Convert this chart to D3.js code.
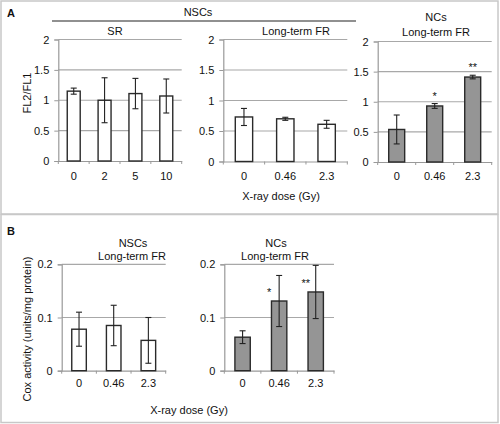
<!DOCTYPE html>
<html><head><meta charset="utf-8">
<script src="https://cdn.jsdelivr.net/npm/d3@7"></script>
<style>body{margin:0;background:#fff}svg{display:block}text{font-family:"Liberation Sans",Arial,sans-serif;fill:#111}</style>
</head><body><svg id="c" width="500" height="424"></svg>
<script>
// ---- data ----
const srDoses = ["0", "2", "5", "10"];
const srMean = [1.15, 1.00, 1.11, 1.07];
const srErr = [0.05, 0.37, 0.25, 0.28];

const frDoses = ["0", "0.46", "2.3"];
const nscFlMean = [0.73, 0.70, 0.61];
const nscFlErr = [0.14, 0.025, 0.065];
const ncFlMean = [0.54, 0.93, 1.41];
const ncFlErr = [0.24, 0.04, 0.03];
const ncFlSig = ["", "*", "**"];

const nscCoxMean = [0.078, 0.085, 0.057];
const nscCoxErr = [0.032, 0.038, 0.043];
const ncCoxMean = [0.063, 0.131, 0.148];
const ncCoxErr = [0.012, 0.048, 0.050];
const ncCoxSig = ["", "*", "**"];

const flTicks = [0, 0.5, 1, 1.5, 2];
const flTickLabels = ["0", "0.5", "1", "1.5", "2"];
const coxTicks = [0, 0.1, 0.2];
const coxTickLabels = ["0", "0.1", "0.2"];

// ---- drawing ----
const svg = d3.select("#c");
// frames
svg.append("rect").attr("x", 1).attr("y", 1).attr("width", 497).attr("height", 213)
  .attr("fill", "none").attr("stroke", "#c8c8c8").attr("stroke-width", 1.5);
svg.append("rect").attr("x", 1).attr("y", 214.5).attr("width", 497).attr("height", 208)
  .attr("fill", "none").attr("stroke", "#c8c8c8").attr("stroke-width", 1.5);

function panel(o) {
  const x = d3.scaleBand().domain(o.cats).range([o.x0, o.x1]).padding(0);
  const y = d3.scaleLinear().domain([0, o.ymax]).range([o.y0, o.yTop]);
  const g = svg.append("g");
  // gridlines
  g.selectAll("line.grid").data(o.ticks.filter(t => t > 0)).join("line")
    .attr("x1", o.x0).attr("x2", o.x1).attr("y1", d => y(d)).attr("y2", d => y(d))
    .attr("stroke", "#a8a8a8").attr("stroke-width", 1.2);
  // y axis
  const ya = g.append("g").attr("transform", `translate(${o.x0},0)`)
    .call(d3.axisLeft(y).tickValues(o.ticks).tickFormat((d, i) => o.tickLabels[i]).tickSize(4).tickPadding(5));
  ya.select(".domain").attr("stroke", "#999").attr("stroke-width", 1.2);
  ya.selectAll(".tick line").attr("stroke", "#999");
  ya.selectAll(".tick text").attr("font-size", 11).attr("font-family", "Liberation Sans, Arial").attr("fill", "#111");
  // x axis
  const xa = g.append("g").attr("transform", `translate(0,${o.y0})`)
    .call(d3.axisBottom(x).tickSize(0).tickPadding(8));
  xa.select(".domain").attr("stroke", "#999").attr("stroke-width", 1.2);
  xa.selectAll(".tick text").attr("font-size", 11).attr("font-family", "Liberation Sans, Arial").attr("fill", "#111")
    .attr("y", o.xLabelDy).attr("dy", 0);
  const bounds = o.cats.map(c => x(c)).concat([o.x1]);
  g.selectAll("line.xt").data(bounds).join("line")
    .attr("x1", d => d).attr("x2", d => d).attr("y1", o.y0).attr("y2", o.y0 + 3)
    .attr("stroke", "#999");
  // bars
  const bw = x.bandwidth() * 0.42;
  const cx = c => x(c) + x.bandwidth() / 2;
  g.selectAll("rect.bar").data(o.cats).join("rect")
    .attr("x", d => cx(d) - bw / 2).attr("width", bw)
    .attr("y", (d, i) => y(o.mean[i])).attr("height", (d, i) => o.y0 - y(o.mean[i]))
    .attr("fill", o.fill).attr("stroke", "#2a2a2a").attr("stroke-width", 1.4);
  // error bars
  const cap = 3;
  o.cats.forEach((c, i) => {
    const hi = y(o.mean[i] + o.err[i]), lo = y(o.mean[i] - o.err[i]);
    const xc = cx(c);
    g.append("line").attr("x1", xc).attr("x2", xc).attr("y1", hi).attr("y2", lo).attr("stroke", "#222").attr("stroke-width", 1.1);
    g.append("line").attr("x1", xc - cap).attr("x2", xc + cap).attr("y1", hi).attr("y2", hi).attr("stroke", "#222").attr("stroke-width", 1.1);
    g.append("line").attr("x1", xc - cap).attr("x2", xc + cap).attr("y1", lo).attr("y2", lo).attr("stroke", "#222").attr("stroke-width", 1.1);
    if (o.sig && o.sig[i]) {
      if (o.sigMode === "above") {
        g.append("text").attr("x", xc).attr("y", hi - 4).attr("text-anchor", "middle")
          .attr("font-size", 11).attr("fill", "#555").text(o.sig[i]);
      } else {
        g.append("text").attr("x", xc - 10).attr("y", y(o.mean[i]) - 5).attr("text-anchor", "middle")
          .attr("font-size", 11).attr("fill", "#555").text(o.sig[i]);
      }
    }
  });
  // titles
  (o.titles || []).forEach(t => {
    g.append("text").attr("x", t.x).attr("y", t.y).attr("text-anchor", "middle").attr("font-size", 11).text(t.text);
  });
}

panel({cats: srDoses, mean: srMean, err: srErr, x0: 58.3, x1: 181.7, y0: 161, yTop: 39.5, ymax: 2,
  ticks: flTicks, tickLabels: flTickLabels, fill: "#fff", xLabelDy: 19,
  titles: [{x: 115, y: 35, text: "SR"}]});
panel({cats: frDoses, mean: nscFlMean, err: nscFlErr, x0: 223.3, x1: 347.3, y0: 161.5, yTop: 39.5, ymax: 2,
  ticks: flTicks, tickLabels: flTickLabels, fill: "#fff", xLabelDy: 18.5,
  titles: [{x: 296, y: 35, text: "Long-term FR"}]});
panel({cats: frDoses, mean: ncFlMean, err: ncFlErr, sig: ncFlSig, sigMode: "above", x0: 377.7, x1: 491.7, y0: 162, yTop: 41.5, ymax: 2,
  ticks: flTicks, tickLabels: flTickLabels, fill: "#959595", xLabelDy: 18,
  titles: [{x: 436, y: 21, text: "NCs"}, {x: 436, y: 35.5, text: "Long-term FR"}]});
panel({cats: frDoses, mean: nscCoxMean, err: nscCoxErr, x0: 61.7, x1: 165.7, y0: 370.7, yTop: 264.3, ymax: 0.2,
  ticks: coxTicks, tickLabels: coxTickLabels, fill: "#fff", xLabelDy: 16.5,
  titles: [{x: 133, y: 247, text: "NSCs"}, {x: 132, y: 260, text: "Long-term FR"}]});
panel({cats: frDoses, mean: ncCoxMean, err: ncCoxErr, sig: ncCoxSig, sigMode: "left", x0: 224.3, x1: 334, y0: 370.7, yTop: 264.3, ymax: 0.2,
  ticks: coxTicks, tickLabels: coxTickLabels, fill: "#959595", xLabelDy: 16.5,
  titles: [{x: 276, y: 247, text: "NCs"}, {x: 275, y: 260, text: "Long-term FR"}]});

// panel letters and shared labels
svg.append("text").attr("x", 7).attr("y", 17).attr("font-size", 11).attr("font-weight", "bold").text("A");
svg.append("text").attr("x", 7).attr("y", 235).attr("font-size", 11).attr("font-weight", "bold").text("B");
svg.append("line").attr("x1", 52).attr("x2", 356).attr("y1", 21).attr("y2", 21).attr("stroke", "#222").attr("stroke-width", 1.2);
svg.append("text").attr("x", 198).attr("y", 16).attr("text-anchor", "middle").attr("font-size", 11).text("NSCs");
svg.append("text").attr("x", 281).attr("y", 200).attr("text-anchor", "middle").attr("font-size", 11).text("X-ray dose (Gy)");
svg.append("text").attr("x", 189).attr("y", 414).attr("text-anchor", "middle").attr("font-size", 11).text("X-ray dose (Gy)");
svg.append("text").attr("transform", "translate(31,93) rotate(-90)").attr("text-anchor", "middle").attr("font-size", 11).text("FL2/FL1");
svg.append("text").attr("transform", "translate(31,329) rotate(-90)").attr("text-anchor", "middle").attr("font-size", 11).text("Cox activity (units/mg protein)");
</script></body></html>
